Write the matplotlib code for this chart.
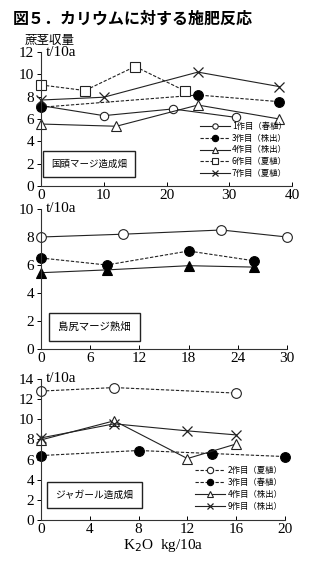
import matplotlib
matplotlib.use("Agg")
import matplotlib.pyplot as plt

plt.rcParams['font.family'] = ['Liberation Serif', 'Noto Sans CJK JP']
JP = ['Noto Sans CJK JP', 'DejaVu Sans']

# --- 国頭マージ造成畑 ---
p1_x_ticks = [0, 10, 20, 30, 40]
p1_y_ticks = [0, 2, 4, 6, 8, 10, 12]
p1_c1_x = [0, 10, 21, 31]
p1_c1_y = [7.2, 6.3, 6.9, 6.15]
p1_c3_x = [0, 25, 38]
p1_c3_y = [7.05, 8.15, 7.55]
p1_c4_x = [0, 12, 25, 38]
p1_c4_y = [5.55, 5.35, 7.25, 6.0]
p1_c6_x = [0, 7, 15, 23]
p1_c6_y = [9.05, 8.55, 10.7, 8.5]
p1_c7_x = [0, 10, 25, 38]
p1_c7_y = [7.7, 7.95, 10.2, 8.9]
p1_labels = ['1作目（春植）', '3作目（株出）', '4作目（株出）', '6作目（夏植）', '7作目（夏植）']

# --- 島尻マージ熟畑 ---
p2_x_ticks = [0, 6, 12, 18, 24, 30]
p2_y_ticks = [0, 2, 4, 6, 8, 10]
p2_a_x = [0, 10, 22, 30]
p2_a_y = [8.0, 8.2, 8.5, 8.0]
p2_b_x = [0, 8, 18, 26]
p2_b_y = [6.5, 6.0, 7.0, 6.3]
p2_c_x = [0, 8, 18, 26]
p2_c_y = [5.45, 5.65, 5.95, 5.85]

# --- ジャガール造成畑 ---
p3_x_ticks = [0, 4, 8, 12, 16, 20]
p3_y_ticks = [0, 2, 4, 6, 8, 10, 12, 14]
p3_c2_x = [0, 6, 16]
p3_c2_y = [12.8, 13.15, 12.6]
p3_c3_x = [0, 8, 14, 20]
p3_c3_y = [6.4, 6.9, 6.6, 6.3]
p3_c4_x = [0, 6, 12, 16]
p3_c4_y = [7.95, 9.85, 6.1, 7.55]
p3_c9_x = [0, 6, 12, 16]
p3_c9_y = [8.15, 9.55, 8.85, 8.45]
p3_labels = ['2作目（夏植）', '3作目（春植）', '4作目（株出）', '9作目（株出）']

fig = plt.figure(figsize=(3.24, 5.67), dpi=100)
fig.patch.set_facecolor('white')

W, H = 324.0, 567.0


def make_axes(left, right, top, bottom):
    return fig.add_axes([left / W, 1 - bottom / H, (right - left) / W, (bottom - top) / H])


def style(ax, xt, yt):
    ax.set_xlim(xt[0], xt[-1])
    ax.set_ylim(yt[0], yt[-1])
    ax.set_xticks(xt)
    ax.set_yticks(yt)
    for s in ('top', 'right'):
        ax.spines[s].set_visible(False)
    for s in ('left', 'bottom'):
        ax.spines[s].set_linewidth(0.8)
        ax.spines[s].set_color('#333333')
    ax.tick_params(axis='y', direction='out', length=3, width=0.7, labelsize=11, pad=2)
    ax.tick_params(axis='x', direction='in', length=3, width=0.7, labelsize=11, pad=2)
    ax.set_facecolor('none')


def site_box(ax, text, cx, cy, size):
    ax.text(cx, cy, text, transform=ax.transAxes, family=JP, fontsize=size,
            ha='center', va='center', zorder=5,
            bbox=dict(boxstyle='square,pad=0.85', fc='white', ec='#222222', lw=1.0))


LW = 0.8
MS = 6
kw_solid = dict(color='#222222', lw=LW, ls='-', clip_on=False)
kw_dash = dict(color='#222222', lw=LW, ls=(0, (3, 1.5)), clip_on=False)
open_m = dict(mfc='white', mec='#222222', mew=0.8)
fill_m = dict(mfc='black', mec='black', mew=0.8)
leg_kw = dict(frameon=False, prop={'family': JP, 'size': 6}, handlelength=3.6,
              handletextpad=0.3, labelspacing=0.35, borderpad=0.1, markerscale=0.65)

# Panel 1
ax1 = make_axes(41, 292, 52, 186)
style(ax1, p1_x_ticks, p1_y_ticks)
ax1.plot(p1_c1_x, p1_c1_y, marker='o', ms=MS, **open_m, **kw_solid, label=p1_labels[0])
ax1.plot(p1_c3_x, p1_c3_y, marker='o', ms=MS + 1, **fill_m, **kw_dash, label=p1_labels[1])
ax1.plot(p1_c4_x, p1_c4_y, marker='^', ms=MS + 1, **open_m, **kw_solid, label=p1_labels[2])
ax1.plot(p1_c6_x, p1_c6_y, marker='s', ms=MS + 1, **open_m, **kw_dash, label=p1_labels[3])
ax1.plot(p1_c7_x, p1_c7_y, marker='x', ms=MS + 1, mec='#222222', mew=0.9, **kw_solid, label=p1_labels[4])
ax1.legend(loc='lower right', bbox_to_anchor=(1.0, 0.02), **leg_kw)
site_box(ax1, '国頭マージ造成畑', 0.193, 0.164, 6.8)
ax1.text(0.02, 1.0, 't/10a', transform=ax1.transAxes, fontsize=11, ha='left', va='center')
fig.text(25 / W, 1 - 40 / H, '蔗茎収量', family=JP, fontsize=9, ha='left', va='center')

# Panel 2
ax2 = make_axes(41, 287, 209, 349)
style(ax2, p2_x_ticks, p2_y_ticks)
ax2.plot(p2_a_x, p2_a_y, marker='o', ms=MS + 1, **open_m, **kw_solid)
ax2.plot(p2_b_x, p2_b_y, marker='o', ms=MS + 1, **fill_m, **kw_dash)
ax2.plot(p2_c_x, p2_c_y, marker='^', ms=MS + 1, **fill_m, **kw_solid)
site_box(ax2, '島尻マージ熟畑', 0.2175, 0.157, 7.5)
ax2.text(0.02, 1.0, 't/10a', transform=ax2.transAxes, fontsize=11, ha='left', va='center')

# Panel 3
ax3 = make_axes(41, 285, 379, 520)
style(ax3, p3_x_ticks, p3_y_ticks)
ax3.plot(p3_c2_x, p3_c2_y, marker='o', ms=MS + 1, **open_m, **kw_dash, label=p3_labels[0])
ax3.plot(p3_c3_x, p3_c3_y, marker='o', ms=MS + 1, **fill_m, **kw_dash, label=p3_labels[1])
ax3.plot(p3_c4_x, p3_c4_y, marker='^', ms=MS + 1, **open_m, **kw_solid, label=p3_labels[2])
ax3.plot(p3_c9_x, p3_c9_y, marker='x', ms=MS + 1, mec='#222222', mew=0.9, **kw_solid, label=p3_labels[3])
ax3.legend(loc='lower right', bbox_to_anchor=(1.01, 0.03), **leg_kw)
site_box(ax3, 'ジャガール造成畑', 0.219, 0.177, 7)
ax3.text(0.02, 1.0, 't/10a', transform=ax3.transAxes, fontsize=11, ha='left', va='center')
ax3.set_xlabel('K$_2$O  kg/10a', fontsize=11, labelpad=1)

fig.text(13 / W, 1 - 19 / H, '図５．カリウムに対する施肥反応', family=JP, fontsize=11.5,
         fontweight='bold', ha='left', va='center')

fig.savefig('out.png', dpi=100, facecolor='white')
